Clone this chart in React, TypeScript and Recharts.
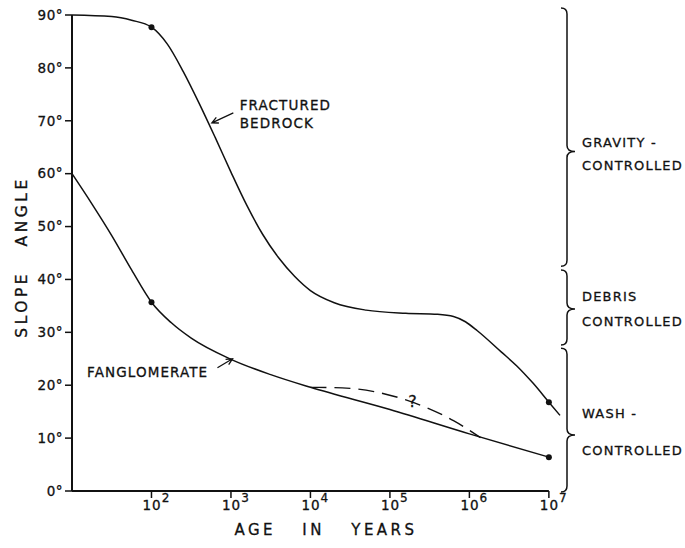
import { LineChart, Line, XAxis, YAxis, ReferenceLine, ReferenceDot, ReferenceArea } from 'recharts'

// age is log10(years), slope in degrees
const bedrockAge = [1.0, 1.5, 1.75, 2.0, 2.2, 2.4, 2.6, 2.8, 3.0, 3.2, 3.4, 3.6, 3.8, 4.0, 4.3, 4.7, 5.2, 5.6, 5.8, 5.95, 6.1, 6.4, 6.6, 6.8, 7.0, 7.14]
const bedrockSlope = [90, 89.7, 89.0, 87.7, 84.5, 79.3, 73.3, 66.9, 60.3, 54.0, 48.5, 44.1, 40.6, 37.9, 35.6, 34.2, 33.6, 33.4, 33.0, 32.0, 30.3, 26.3, 23.6, 20.4, 16.8, 14.3]

const fangAge = [1.0, 1.25, 1.5, 1.75, 2.0, 2.25, 2.5, 3.0, 3.5, 4.0, 5.0, 6.0, 7.0]
const fangSlope = [60, 54.3, 48.3, 41.8, 35.7, 31.8, 28.9, 24.9, 22.0, 19.6, 15.4, 10.8, 6.4]

const doubtAge = [4.0, 4.4, 4.8, 5.1, 5.47, 5.8, 6.14]
const doubtSlope = [19.6, 19.5, 18.8, 17.7, 15.7, 13.3, 10.1]

const markedAges = [2, 7]
const ageTicks = [2, 3, 4, 5, 6, 7]
const slopeTicks = [0, 10, 20, 30, 40, 50, 60, 70, 80, 90]

const zones = [
  { lines: ['GRAVITY -', 'CONTROLLED'], from: 42.5, to: 91.3, tip: 64.2, textAt: [65.8, 61.6] },
  { lines: ['DEBRIS', 'CONTROLLED'], from: 27.6, to: 41.8, tip: 34.4, textAt: [36.8, 32.0] },
  { lines: ['WASH -', 'CONTROLLED'], from: -0.2, to: 27.0, tip: 10.6, textAt: [14.6, 7.6] },
]

const notes = [
  { text: 'FRACTURED', age: 3.11, slope: 73.0, size: 13.5 },
  { text: 'BEDROCK', age: 3.11, slope: 69.6, size: 13.5 },
  { text: 'FANGLOMERATE', age: 1.19, slope: 22.5, size: 13.5 },
  { text: '?', age: 5.23, slope: 16.9, size: 16 },
]

const arrows = [
  { from: { x: 3.03, y: 71.5 }, to: { x: 2.76, y: 69.6 } },
  { from: { x: 2.83, y: 23.3 }, to: { x: 3.02, y: 25.0 } },
]

const zip = (ages: number[], slopes: number[]) => ages.map((age, i) => ({ age, slope: slopes[i] }))
const bedrock = zip(bedrockAge, bedrockSlope)
const fang = zip(fangAge, fangSlope)
const doubt = zip(doubtAge, doubtSlope)

const FONT = '"DejaVu Sans", sans-serif'
const INK = '#111'
const ink = { fill: INK, stroke: INK, strokeWidth: 0.3 }

const PowTick = ({ x, y, payload }: any) => (
  <text x={x - 9} y={y + 10} fontFamily={FONT} fontSize={13.5} letterSpacing={1} {...ink}>
    10
    <tspan dy={-8} fontSize={12}>{payload.value}</tspan>
  </text>
)

const endDot = (p: any) =>
  markedAges.includes(p.payload.age) ? (
    <circle key={p.index} cx={p.cx} cy={p.cy} r={3} fill={INK} />
  ) : (
    <g key={p.index} />
  )

const Arrow = ({ x1, y1, x2, y2 }: any) => {
  const a = Math.atan2(y2 - y1, x2 - x1)
  const h = 7
  const l = [x2 - h * Math.cos(a - 0.45), y2 - h * Math.sin(a - 0.45)]
  const r = [x2 - h * Math.cos(a + 0.45), y2 - h * Math.sin(a + 0.45)]
  return (
    <path
      d={`M${x1},${y1}L${x2},${y2}M${l[0]},${l[1]}L${x2},${y2}L${r[0]},${r[1]}`}
      stroke={INK}
      strokeWidth={1.3}
      fill="none"
    />
  )
}

export default function App() {
  return (
    <div style={{ position: 'absolute', left: 0, top: 0, width: 685, height: 548, background: '#fff' }}>
      <LineChart width={685} height={548} margin={{ top: 15, right: 125, left: 0, bottom: 0 }}>
        <XAxis
          type="number"
          dataKey="age"
          domain={[1, 7.14]}
          ticks={ageTicks}
          axisLine={false}
          tickLine={{ stroke: INK, strokeWidth: 1.5 }}
          tickSize={7}
          tick={<PowTick />}
          height={57}
          label={(p: any) => (
            <text
              x={p.viewBox.x + p.viewBox.width / 2 + 10}
              y={p.viewBox.y + 44}
              textAnchor="middle"
              fontFamily={FONT}
              fontSize={15}
              letterSpacing={3.5}
              wordSpacing={18}
              {...ink}
            >
              AGE IN YEARS
            </text>
          )}
        />
        <YAxis
          type="number"
          domain={[0, 90]}
          ticks={slopeTicks}
          width={72}
          axisLine={{ stroke: INK, strokeWidth: 2 }}
          tickLine={{ stroke: INK, strokeWidth: 1.5 }}
          tickSize={7}
          tickFormatter={(v: number) => `${v}°`}
          tick={{ fontFamily: FONT, fontSize: 13.5, letterSpacing: 0.5, ...ink }}
          label={(p: any) => (
            <text
              transform={`translate(22, ${p.viewBox.y + p.viewBox.height / 2 + 4}) rotate(-90)`}
              textAnchor="middle"
              dominantBaseline="central"
              fontFamily={FONT}
              fontSize={15.5}
              letterSpacing={3.5}
              wordSpacing={16}
              {...ink}
            >
              SLOPE ANGLE
            </text>
          )}
        />
        <ReferenceLine
          segment={[{ x: 1, y: 0 }, { x: 7, y: 0 }]}
          stroke={INK}
          strokeWidth={2}
          ifOverflow="visible"
        />
        <Line
          data={bedrock}
          dataKey="slope"
          type="monotone"
          stroke={INK}
          strokeWidth={1.5}
          dot={endDot}
          activeDot={false}
          isAnimationActive={false}
        />
        <Line
          data={fang}
          dataKey="slope"
          type="monotone"
          stroke={INK}
          strokeWidth={1.5}
          dot={endDot}
          activeDot={false}
          isAnimationActive={false}
        />
        <Line
          data={doubt}
          dataKey="slope"
          type="monotone"
          stroke={INK}
          strokeWidth={1.4}
          strokeDasharray="16 8"
          dot={false}
          activeDot={false}
          isAnimationActive={false}
        />
        {arrows.map((a, i) => (
          <ReferenceLine key={`ar${i}`} segment={[a.from, a.to]} ifOverflow="visible" shape={Arrow} />
        ))}
        {notes.map((n) => (
          <ReferenceDot
            key={n.text}
            x={n.age}
            y={n.slope}
            r={0}
            ifOverflow="visible"
            shape={(p: any) => (
              <text
                x={p.cx}
                y={p.cy}
                dominantBaseline="central"
                fontFamily={FONT}
                fontSize={n.size}
                letterSpacing={1.1}
                {...ink}
              >
                {n.text}
              </text>
            )}
          />
        ))}
        {zones.map((z) => (
          <ReferenceArea
            key={z.lines[0]}
            x1={7.0}
            x2={7.14}
            y1={z.from}
            y2={z.to}
            ifOverflow="visible"
            shape={(p: any) => {
              const X = p.x + p.width + 7
              const top = p.y
              const bot = p.y + p.height
              const k = p.height / (z.to - z.from)
              const tipY = top + (z.to - z.tip) * k
              const r = 6
              return (
                <g>
                  <path
                    d={`M${X - 6},${top} Q${X},${top} ${X},${top + r} L${X},${tipY - r} Q${X},${tipY} ${X + 8},${tipY} Q${X},${tipY} ${X},${tipY + r} L${X},${bot - r} Q${X},${bot} ${X - 6},${bot}`}
                    stroke={INK}
                    strokeWidth={1.5}
                    fill="none"
                  />
                  {z.lines.map((t, i) => (
                    <text
                      key={t}
                      x={X + 15}
                      y={top + (z.to - z.textAt[i]) * k}
                      dominantBaseline="central"
                      fontFamily={FONT}
                      fontSize={13}
                      letterSpacing={1.2}
                      {...ink}
                    >
                      {t}
                    </text>
                  ))}
                </g>
              )
            }}
          />
        ))}
      </LineChart>
    </div>
  )
}
